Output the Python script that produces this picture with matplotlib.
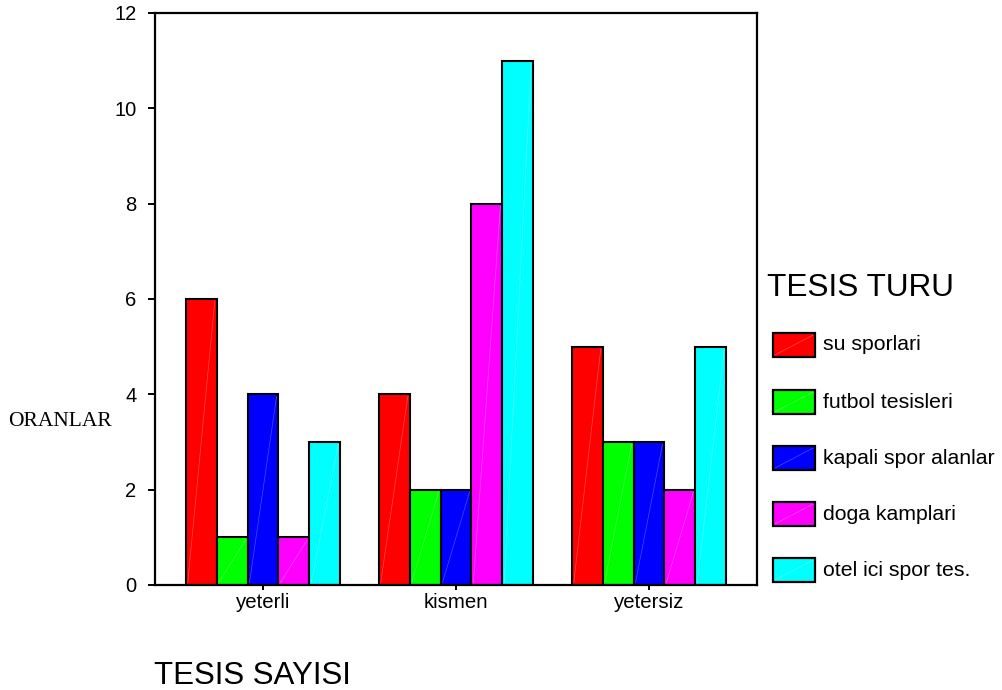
import matplotlib
matplotlib.use("Agg")
import matplotlib.pyplot as plt
import numpy as np
from matplotlib.patches import Rectangle
from matplotlib.lines import Line2D

categories = ["yeterli", "kismen", "yetersiz"]
series = ["su sporlari", "futbol tesisleri", "kapali spor alanlar",
          "doga kamplari", "otel ici spor tes."]
colors = ["#ff0000", "#00ff00", "#0000ff", "#ff00ff", "#00ffff"]
values = [
    [6, 4, 5],    # su sporlari
    [1, 2, 3],    # futbol tesisleri
    [4, 2, 3],    # kapali spor alanlar
    [1, 8, 2],    # doga kamplari
    [3, 11, 5],   # otel ici spor tes.
]

plt.rcParams["font.family"] = ["Liberation Sans", "DejaVu Sans"]

W, H = 1002, 690
fig = plt.figure(figsize=(W / 100, H / 100), dpi=100)
ax = fig.add_axes([155 / W, 1 - 585 / H, 602 / W, 572 / H])

x = np.arange(len(categories))
width = 0.16
for i, (name, col, vals) in enumerate(zip(series, colors, values)):
    offs = (i - 2) * width
    ax.bar(x + offs, vals, width=width, color=col, edgecolor="black",
           linewidth=1.5, zorder=2)
    # faint seam across each bar (bottom-left to top-right)
    for xi, v in zip(x, vals):
        ax.plot([xi + offs - width / 2 + 0.01, xi + offs + width / 2 - 0.01],
                [0.05, v - 0.05], color="white", lw=0.5, alpha=0.3, zorder=3)

ax.set_xlim(-0.5596, 2.5596)
ax.set_ylim(0, 12)
ax.set_yticks(range(0, 13, 2))
ax.set_xticks(x)
ax.set_xticklabels(categories, fontsize=14.7)
ax.tick_params(axis="y", direction="out", length=5, width=1.4, pad=8.5,
               labelsize=14.5)
ax.tick_params(axis="x", direction="out", length=3.6, width=1.4, pad=2)
for s in ax.spines.values():
    s.set_linewidth(1.6)

fig.text(8 / W, 1 - 422 / H, "ORANLAR", family="Liberation Serif",
         fontsize=15.5, va="center", ha="left")
fig.text(154 / W, 1 - 684 / H, "TESIS SAYISI", fontsize=22.5,
         va="baseline", ha="left")
fig.text(767 / W, 1 - 296 / H, "TESIS TURU", fontsize=22.7,
         va="baseline", ha="left")

# legend swatches
row_y = [345, 402, 458, 514, 570]
for name, col, yc in zip(series, colors, row_y):
    x0, y0, w, h = 773 / W, 1 - (yc + 12) / H, 42 / W, 24 / H
    fig.add_artist(Rectangle((x0, y0), w, h, transform=fig.transFigure,
                             facecolor=col, edgecolor="black", lw=1.6))
    fig.add_artist(Line2D([x0 + 0.002, x0 + w - 0.002], [y0 + 0.003, y0 + h - 0.003],
                          transform=fig.transFigure, color="white", lw=0.5,
                          alpha=0.3))
    fig.text(823 / W, 1 - yc / H, name, fontsize=15.3, va="center", ha="left")

fig.savefig("out.png", dpi=100)
